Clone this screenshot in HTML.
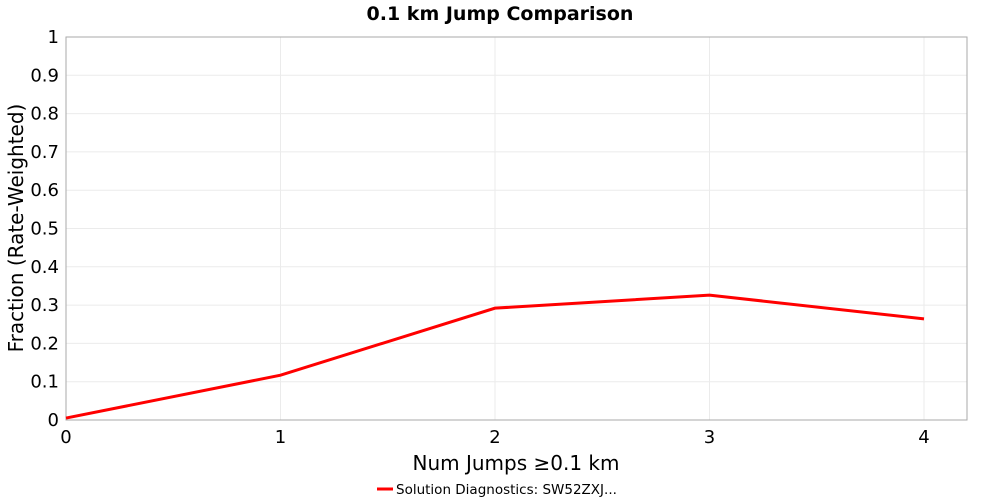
<!DOCTYPE html>
<html><head><meta charset="utf-8"><style>
body{margin:0;background:#fff;}
svg{display:block;font-family:"DejaVu Sans","Liberation Sans",sans-serif;}
</style></head><body>
<svg id="chart" width="1000" height="500">
<text x="500" y="20" text-anchor="middle" font-size="19" font-weight="bold">0.1 km Jump Comparison</text>
<g id="grid"></g>
<rect x="66" y="37" width="901" height="383" fill="none" stroke="#aaa"/>
<g id="ticks"></g>
<text x="516" y="470" text-anchor="middle" font-size="20">Num Jumps ≥0.1 km</text>
<text transform="translate(23,228) rotate(-90)" text-anchor="middle" font-size="20">Fraction (Rate-Weighted)</text>
<g>
<line x1="377" y1="489" x2="393" y2="489" stroke="#f00" stroke-width="3"/>
<text x="396" y="494" font-size="13.5">Solution Diagnostics: SW52ZXJ...</text>
</g>
<g id="series"></g>
</svg>
<script>
const categories=[0,1,2,3,4];
const seriesValues=[0.005,0.117,0.292,0.326,0.264];
const yTicks=["0","0.1","0.2","0.3","0.4","0.5","0.6","0.7","0.8","0.9","1"];
const xTicks=["0","1","2","3","4"];
const NS="http://www.w3.org/2000/svg";
const X=v=>66+v*214.5, Y=v=>420-v*383;
const grid=document.getElementById('grid'),ticks=document.getElementById('ticks'),ser=document.getElementById('series');
function mk(t,a,p){const e=document.createElementNS(NS,t);for(const k in a)e.setAttribute(k,a[k]);p.appendChild(e);return e;}
yTicks.forEach(s=>{const v=parseFloat(s),y=Y(v);
 const g=mk('line',{x1:66,x2:967,y1:y,y2:y,stroke:'#ebebeb'},grid);
 
 
 const t=mk('text',{x:59,y:y+6,'text-anchor':'end','font-size':18},ticks);t.textContent=s;
 
 
});
xTicks.forEach(s=>{const v=parseFloat(s),x=X(v);
 const g=mk('line',{x1:x,x2:x,y1:37,y2:420,stroke:'#ebebeb'},grid);
 
 
 const t=mk('text',{x:x,y:443,'text-anchor':'middle','font-size':18},ticks);t.textContent=s;
 
 
});
const pl=mk('polyline',{points:categories.map((c,i)=>X(c)+','+Y(seriesValues[i])).join(' '),fill:'none',stroke:'#f00','stroke-width':3},ser);


</script>
</body></html>
